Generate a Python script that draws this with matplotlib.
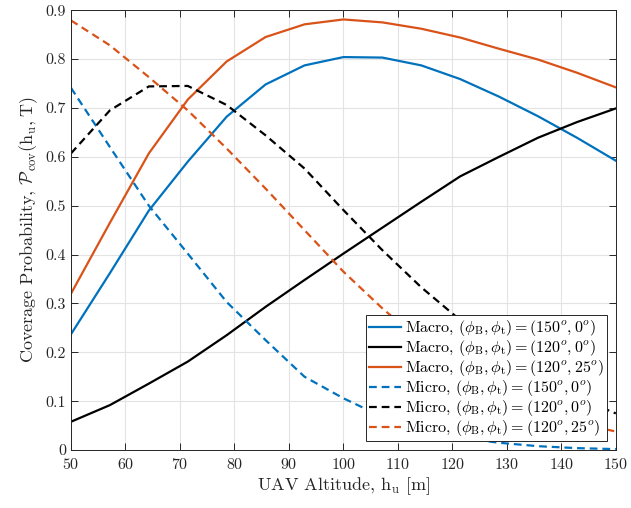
import numpy as np
import matplotlib
matplotlib.use("Agg")
import matplotlib.pyplot as plt

# ---------------------------------------------------------------------------
# Donnees (15 altitudes entre 50 et 150 m)
# ---------------------------------------------------------------------------
altitude = [50, 57.14, 64.29, 71.43, 78.57, 85.71, 92.86, 100,
            107.14, 114.29, 121.43, 128.57, 135.71, 142.86, 150]

macro_150_0 = [0.237, 0.362, 0.490, 0.590, 0.682, 0.748, 0.787, 0.804,
               0.803, 0.787, 0.759, 0.723, 0.683, 0.639, 0.592]
macro_120_0 = [0.058, 0.092, 0.136, 0.181, 0.235, 0.293, 0.348, 0.402,
               0.455, 0.508, 0.560, 0.600, 0.639, 0.671, 0.699]
macro_120_25 = [0.320, 0.465, 0.607, 0.717, 0.795, 0.845, 0.871, 0.881,
                0.875, 0.862, 0.844, 0.821, 0.799, 0.772, 0.742]
micro_150_0 = [0.741, 0.620, 0.500, 0.402, 0.303, 0.225, 0.150, 0.106,
               0.068, 0.042, 0.025, 0.015, 0.008, 0.004, 0.002]
micro_120_0 = [0.607, 0.695, 0.744, 0.745, 0.706, 0.644, 0.576, 0.491,
               0.409, 0.333, 0.266, 0.205, 0.152, 0.108, 0.075]
micro_120_25 = [0.879, 0.828, 0.763, 0.695, 0.617, 0.535, 0.450, 0.365,
                0.290, 0.222, 0.162, 0.115, 0.080, 0.055, 0.038]

labels = [
    r"Macro, $(\phi_{\rm B},\phi_{\rm t})=(150^o,0^o)$",
    r"Macro, $(\phi_{\rm B},\phi_{\rm t})=(120^o,0^o)$",
    r"Macro, $(\phi_{\rm B},\phi_{\rm t})=(120^o,25^o)$",
    r"Micro, $(\phi_{\rm B},\phi_{\rm t})=(150^o,0^o)$",
    r"Micro, $(\phi_{\rm B},\phi_{\rm t})=(120^o,0^o)$",
    r"Micro, $(\phi_{\rm B},\phi_{\rm t})=(120^o,25^o)$",
]

BLUE = "#0072BD"
ORANGE = "#D95319"
BLACK = "k"

# ---------------------------------------------------------------------------
# Style (police type LaTeX / MATLAB)
# ---------------------------------------------------------------------------
plt.rcParams["font.family"] = "serif"
plt.rcParams["font.serif"] = ["cmr10"]
plt.rcParams["mathtext.fontset"] = "cm"
plt.rcParams["axes.formatter.use_mathtext"] = True

fig = plt.figure(figsize=(6.31, 5.08), dpi=100)
ax = fig.add_axes([0.1125, 0.114, 0.8635, 0.866])

lw = 1.6
dash = (0, (3.5, 2.2))
series = [
    (macro_150_0, BLUE, "-"),
    (macro_120_0, BLACK, "-"),
    (macro_120_25, ORANGE, "-"),
    (micro_150_0, BLUE, dash),
    (micro_120_0, BLACK, dash),
    (micro_120_25, ORANGE, dash),
]
for (vals, col, ls), lab in zip(series, labels):
    ax.plot(altitude, vals, color=col, linestyle=ls, linewidth=lw, label=lab)

ax.set_xlim(50, 150)
ax.set_ylim(0, 0.9)
ax.set_xticks(np.arange(50, 151, 10))
ax.set_yticks(np.arange(0, 0.91, 0.1))
ax.set_yticklabels(["0", "0.1", "0.2", "0.3", "0.4", "0.5", "0.6", "0.7", "0.8", "0.9"])
ax.grid(True, color="#e3e3e3", linewidth=0.8)
ax.set_axisbelow(True)
ax.tick_params(direction="in", top=True, right=True, labelsize=11.5,
               length=5, width=0.7, colors="#262626", labelcolor="#262626")
ax.tick_params(axis="x", pad=5)
for s in ax.spines.values():
    s.set_color("#262626")
    s.set_linewidth(0.7)

ax.set_xlabel(r"UAV Altitude, $\mathrm{h_u}$ [m]", fontsize=13, color="#262626",
              labelpad=2)
ax.set_ylabel(r"Coverage Probability, $\mathcal{P}_{\rm cov}(\mathrm{h_u},\mathrm{T})$",
              fontsize=13, color="#262626", labelpad=4)

leg = ax.legend(loc="lower right", fontsize=11.5, frameon=True, fancybox=False,
                framealpha=1, edgecolor="#262626", handlelength=2.0,
                handletextpad=0.25, labelspacing=0.0, borderpad=0.2,
                borderaxespad=0.55)
leg.get_frame().set_linewidth(0.7)

fig.savefig("out.png", dpi=100)
